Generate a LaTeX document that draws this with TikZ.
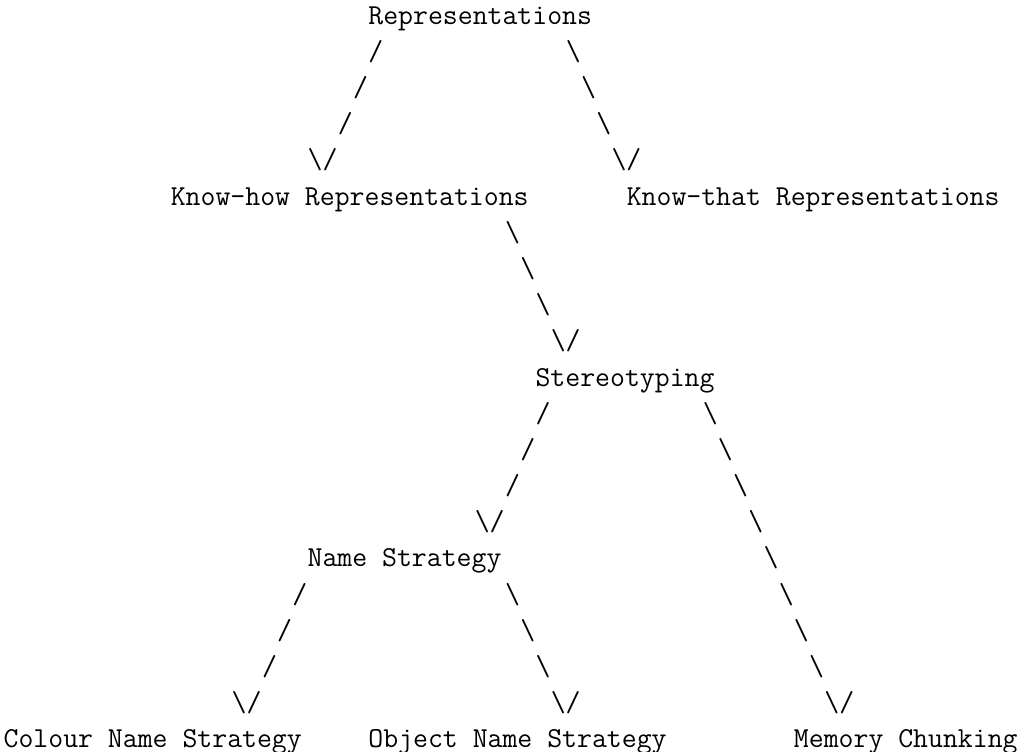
\documentclass[tikz,border=0pt]{standalone}
\begin{document}
\begin{tikzpicture}[x=6.3pt, y=-15pt,
    txt/.style={font=\fontsize{12}{15}\selectfont\ttfamily, anchor=base west, inner sep=0pt, outer sep=0pt}]
    \useasboundingbox (0pt,0pt) rectangle (425.7pt,-311.3pt);
    \begin{scope}[shift={(1.5pt,-10pt)}]
    % Etiquetas
    \node[txt] (rep) at (24,0) {Representations};
    \node[txt] (howrep) at (11,5) {Know-how Representations};
    \node[txt] (thatrep) at (41,5) {Know-that Representations};
    \node[txt] (stereo) at (35,10) {Stereotyping};
    \node[txt] (namestr) at (20,15) {Name Strategy};
    \node[txt] (colour) at (0,20) {Colour Name Strategy};
    \node[txt] (object) at (24,20) {Object Name Strategy};
    \node[txt] (memory) at (52,20) {Memory Chunking};

    % Ramas de Representations
    \foreach \i in {1,2,3} {
        \node[txt] (rep-l\i) at ({25-\i},\i) {/};
        \node[txt] (rep-r\i) at ({36+\i},\i) {\textbackslash};
    }
    \node[txt] (rep-lend) at (20,4) {\textbackslash/};
    \node[txt] (rep-rend) at (40,4) {\textbackslash/};

    % Know-how -> Stereotyping
    \foreach \i in {1,2,3}
        \node[txt] (how-r\i) at ({32+\i},{5+\i}) {\textbackslash};
    \node[txt] (how-rend) at (36,9) {\textbackslash/};

    % Ramas de Stereotyping
    \foreach \i in {1,2,3}
        \node[txt] (st-l\i) at ({36-\i},{10+\i}) {/};
    \node[txt] (st-lend) at (31,14) {\textbackslash/};
    \foreach \i in {1,...,8}
        \node[txt] (st-r\i) at ({45+\i},{10+\i}) {\textbackslash};
    \node[txt] (st-rend) at (54,19) {\textbackslash/};

    % Ramas de Name Strategy
    \foreach \i in {1,2,3} {
        \node[txt] (ns-l\i) at ({20-\i},{15+\i}) {/};
        \node[txt] (ns-r\i) at ({32+\i},{15+\i}) {\textbackslash};
    }
    \node[txt] (ns-lend) at (15,19) {\textbackslash/};
    \node[txt] (ns-rend) at (36,19) {\textbackslash/};
    \end{scope}
\end{tikzpicture}
\end{document}
